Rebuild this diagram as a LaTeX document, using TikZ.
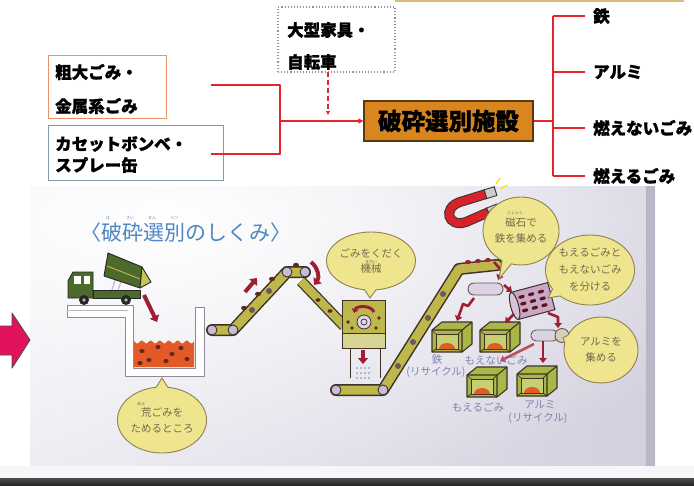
\documentclass[tikz,border=0pt]{standalone}
\usepackage{fontspec}
\setmainfont{Noto Sans CJK JP}
\newfontfamily\heavyjp{Noto Sans CJK JP}[BoldFeatures={FakeBold=1.3}]
\usetikzlibrary{arrows.meta,shapes.callouts,fadings}

\definecolor{linered}{HTML}{E3262B}
\definecolor{edgeorange}{HTML}{E8916A}
\definecolor{edgeblue}{HTML}{7E9CAA}
\definecolor{edgegray}{HTML}{9A8E9C}
\definecolor{plantfill}{HTML}{D9861E}
\definecolor{plantedge}{HTML}{5C3810}
\definecolor{panelL}{HTML}{ECEBF2}
\definecolor{panelR}{HTML}{D3D0DE}
\definecolor{panelEdge}{HTML}{BAB5C7}
\definecolor{bubblefill}{HTML}{EFE58E}
\definecolor{bubbleedge}{HTML}{8E8050}
\definecolor{bubbletext}{HTML}{6F6B4C}
\definecolor{titleblue}{HTML}{4E86C2}
\definecolor{labelblue}{HTML}{7D84B0}
\definecolor{belt}{HTML}{BEB84C}
\definecolor{beltedge}{HTML}{3E3024}
\definecolor{pulley}{HTML}{C9BCDB}
\definecolor{flowred}{HTML}{9E1F33}
\definecolor{garbage}{HTML}{E35A28}
\definecolor{lump}{HTML}{5B2A1E}
\definecolor{truckgreen}{HTML}{4B6A2B}
\definecolor{tipyellow}{HTML}{C9C455}
\definecolor{bingreen}{HTML}{A9B748}
\definecolor{bininner}{HTML}{C7CF72}
\definecolor{drum}{HTML}{DBD3E3}
\definecolor{screen}{HTML}{C9A7C6}
\definecolor{pinkarrow}{HTML}{E2135D}
\definecolor{wallgray}{HTML}{8C8A96}
\definecolor{magnetred}{HTML}{D8222A}
\definecolor{topline}{HTML}{D9BC7E}

\tikzfading[name=softcorner, inner color=transparent!0, outer color=transparent!100]

\tikzset{
  redline/.style={draw=linered, line width=1.6pt},
  heavy/.style={font=\heavyjp\fontsize{16.5}{20}\selectfont\bfseries, inner sep=0pt, anchor=west},
  bubble/.style={ellipse callout, fill=bubblefill, draw=bubbleedge, line width=0.9pt,
    align=center, font=\fontsize{10.5}{16}\selectfont, text=bubbletext, inner sep=0pt},
  ruby/.style={font=\fontsize{4}{4}\selectfont, inner sep=0pt},
  binlabel/.style={font=\fontsize{10.5}{12}\selectfont, text=labelblue, inner sep=0pt},
  flow/.style={draw=flowred, line width=2.6pt, line join=round, -{Triangle[length=5pt,width=7.5pt]}},
  bigflow/.style={draw=flowred, line width=4pt, line join=round, -{Triangle[length=6pt,width=10pt]}},
  beltbase/.style={line width=12pt, draw=beltedge, line cap=round, line join=round},
  belttop/.style={line width=9pt, draw=belt, line cap=round, line join=round},
  roller/.style={circle, fill=pulley, draw=beltedge, line width=0.9pt, minimum size=10pt, inner sep=0pt},
  idler/.style={circle, fill=beltedge!70!pulley, minimum size=6pt, inner sep=0pt},
  bin/.pic={
    \filldraw[fill=bingreen, draw=beltedge, line width=1.1pt, line join=round]
      (0,8) -- (10,0) -- (40,0) -- (40,22) -- (30,30) -- (0,30) -- cycle;
    \filldraw[fill=bininner, draw=beltedge, line width=0.7pt] (4,12) rectangle (26,27);
    \draw[beltedge, line width=0.7pt] (0,8) -- (4,12) (30,8) -- (26,12) (0,30) -- (4,27) (30,30) -- (26,27);
    \draw[beltedge, line width=1.1pt, line join=round] (0,8) -- (30,8) -- (40,0) (30,8) -- (30,30);
    \fill[garbage] (7,27) arc[start angle=180, end angle=360, x radius=8, y radius=6] -- cycle;
  }
}

\begin{document}
\begin{tikzpicture}[x=1pt, y=-1pt]
\useasboundingbox (0,0) rectangle (694,485);
\fill[white] (0,0) rectangle (694,485);

% ---------- illustrated panel background ----------
\shade[left color=panelL, right color=panelR] (30,186) rectangle (655,466);
\begin{scope}
  \clip (30,186) rectangle (655,466);
  \fill[white, path fading=softcorner] (-465,-60) rectangle (795,500);
\end{scope}
\fill[panelEdge] (646,186) rectangle (655,466);
\fill[white!80!panelR] (0,466) rectangle (694,478);
\shade[top color=black!70, bottom color=black!85] (0,478) rectangle (694,485);

\draw[topline, line width=2pt] (395,1) -- (684,1);

% ---------- flow chart ----------
\node[draw=edgeorange, line width=1pt, minimum width=118pt, minimum height=63pt, inner sep=0pt] (sodai) at (107,86.5) {};
\node[heavy] (sodai1) at (55,72) {粗大ごみ・};
\node[heavy] (sodai2) at (55,106) {金属系ごみ};
\node[draw=edgeblue, line width=1pt, minimum width=175pt, minimum height=55pt, inner sep=0pt] (cassette) at (135.5,152.5) {};
\node[heavy] (cassette1) at (55,144) {カセットボンベ・};
\node[heavy] (cassette2) at (55,165) {スプレー缶};
\node[draw=edgegray, dotted, line width=1.1pt, minimum width=117pt, minimum height=65pt, inner sep=0pt] (kagu) at (336.5,39.5) {};
\node[heavy] (kagu1) at (287,30) {大型家具・};
\node[heavy] (kagu2) at (287,62) {自転車};
\node[fill=plantfill, draw=plantedge, line width=1.3pt, minimum width=169pt, minimum height=40pt,
      inner sep=0pt, font=\heavyjp\fontsize{23.5}{26}\selectfont\bfseries] (plant) at (448.5,121) {破砕選別施設};

\coordinate (ja) at (211,85);
\coordinate (jb) at (280,85);
\coordinate (jc) at (280,154);
\coordinate (jd) at (211,154);
\coordinate (jm) at (280,121);
\draw[redline, line join=round] (ja) -- (jb) -- (jc) -- (jd);
\draw[redline, -{Triangle[length=5pt,width=5pt]}] (jm) -- (plant.west);
\coordinate (da) at (328,72);
\coordinate (db) at (328,115);
\draw[linered, line width=1.3pt, dash pattern=on 5pt off 3pt, -{Triangle[length=4pt,width=4pt]}] (da) -- (db);

\node[heavy] (tetsu) at (593,16) {鉄};
\node[heavy] (alumi) at (593,72) {アルミ};
\node[heavy] (moenai) at (593,128) {燃えないごみ};
\node[heavy] (moeru) at (593,176) {燃えるごみ};
\coordinate (ra) at (553,121);
\coordinate (r1) at (553,16);
\coordinate (r2) at (553,72);
\coordinate (r3) at (553,128);
\coordinate (r4) at (553,176);
\draw[redline] (plant.east) -- (ra);
\draw[redline] (r1) -- (r4);
\foreach \r/\t in {r1/tetsu, r2/alumi, r3/moenai, r4/moeru}
  \draw[redline, shorten >=8pt] (\r) -- (\t.west);

% pink arrow at the left edge
\filldraw[fill=pinkarrow, draw=black!70, line width=0.9pt, line join=round]
  (-2,326) -- (12,326) -- (12,313) -- (30,340) -- (12,368) -- (12,355) -- (-2,355) -- cycle;

% title
\node[font=\fontsize{21}{24}\selectfont, text=titleblue, anchor=west, inner sep=0pt] (title) at (80,233) {〈破砕選別のしくみ〉};
\node[ruby, text=titleblue] (rb1) at (108,218) {は};
\node[ruby, text=titleblue] (rb2) at (130,218) {さい};
\node[ruby, text=titleblue] (rb3) at (152,218) {せん};
\node[ruby, text=titleblue] (rb4) at (174,218) {べつ};

% truck
\filldraw[fill=truckgreen, draw=black!85, line width=0.9pt, line join=round]
  (68,298) -- (68,281) -- (73,272) -- (93,272) -- (93,298) -- cycle;
\fill[white] (74,276) rectangle (81,284);
\fill[white] (84,276) rectangle (90,284);
\filldraw[fill=truckgreen, draw=black!85, line width=0.9pt] (93,290) rectangle (140,298);
\draw[pulley, line width=1.3pt] (112,290) -- (116,277) (118,290) -- (122,279);
\filldraw[fill=truckgreen, draw=black!85, line width=0.9pt, line join=round]
  (104,276) -- (108,253) -- (142,267) -- (140,288) -- cycle;
\draw[tipyellow, line width=0.8pt] (107,266) -- (140,279);
\filldraw[fill=tipyellow, draw=black!85, line width=0.9pt, line join=round] (142,267) -- (151,282) -- (140,288) -- cycle;
\foreach \w in {84,126} {
  \fill[black!85] (\w,300) circle[radius=5];
  \fill[black!30] (\w,300) circle[radius=1.8];
}

% receiving pit
\filldraw[fill=white, draw=wallgray, line width=1pt, line join=round]
  (67,305) -- (133,305) -- (133,368) -- (195,368) -- (195,307) -- (204,307) -- (204,376)
  -- (125,376) -- (125,317) -- (67,317) -- cycle;
\draw[wallgray!60, line width=0.6pt] (67,310) -- (128,310);
\fill[garbage] plot[domain=134:194, samples=50] (\x,{342+1.5*sin(\x*40)}) -- (194,367) -- (134,367) -- cycle;
\foreach \p in {(142,351),(158,347),(181,348),(149,360),(166,361),(187,359),(172,354),(140,363)}
  \fill[lump] \p ellipse[x radius=2.6, y radius=2];
\draw[bigflow] (144,295) -- (157,322);

% first conveyor
\draw[beltbase] (212,330) -- (233,330) -- (287,272) -- (305,272);
\draw[belttop] (212,330) -- (233,330) -- (287,272) -- (305,272);
\foreach \p in {(244,308),(258,294),(272,279),(296,265)}
  \fill[lump] \p ellipse[x radius=3, y radius=2.2];
\node[idler] (id1) at (252,310) {};
\node[idler] (id2) at (269,291) {};
\node[roller] (p1) at (212,330) {};
\node[roller] (p2) at (233,330) {};
\node[roller] (p3) at (287,272) {};
\node[roller] (p4) at (305,272) {};
\draw[bigflow] (245,292) -- (257,278);
\draw[bigflow] (311,262) to[bend left=45] (314,285);

% chute to the crusher
\draw[line width=11pt, beltedge] (301,281) -- (344,326);
\draw[line width=8.5pt, belt] (301,281) -- (344,326);
\fill[lump] (318,300) ellipse[x radius=2.5, y radius=1.8];
\fill[lump] (330,311) ellipse[x radius=2.5, y radius=1.8];

% crusher
\filldraw[fill=belt, draw=beltedge, line width=1pt] (342,300) rectangle (385,348);
\filldraw[fill=belt!60!white, draw=beltedge, line width=0.8pt] (342,333) rectangle (385,348);
\filldraw[fill=pulley!60!white, draw=beltedge, line width=0.8pt] (364,322) circle[radius=7];
\draw[beltedge, line width=0.7pt] (364,322) circle[radius=3];
\foreach \p in {(348,322),(379,318),(352,328),(376,328)}
  \fill[lump] \p circle[radius=1.8];
\draw[draw=flowred, line width=3pt, -{Triangle[length=4pt,width=7pt]}] (374,312) to[bend right=70] (354,313);
\draw[beltedge, line width=1pt] (350,348) -- (350,378) (380,348) -- (380,378);
\draw[bigflow] (363,350) -- (363,364);
\foreach \i in {357,361,365,369} \foreach \j in {368,373,378}
  \fill[labelblue] (\i,\j) circle[radius=0.9];

% second conveyor
\draw[beltbase] (336,390) -- (383,390) -- (459,269) -- (497,265);
\draw[belttop] (336,390) -- (383,390) -- (459,269) -- (497,265);
\foreach \p in {(398,366),(413,342),(428,318),(443,294)}
  \node[idler] at \p {};
\foreach \p in {(468,262),(478,261),(488,260)}
  \fill[flowred] \p ellipse[x radius=3, y radius=2];
\node[roller] (p5) at (336,390) {};
\node[roller] (p6) at (383,390) {};

% magnet
\draw[black!80, line width=10pt] (486,194) -- (460,202) .. controls (442,208) and (448,228) .. (466,222) -- (489,212);
\draw[magnetred, line width=8pt] (486,194) -- (460,202) .. controls (442,208) and (448,228) .. (466,222) -- (489,212);
\draw[black!80, line width=10pt] (485,194.3) -- (496,191);
\draw[black!80, line width=10pt] (488,212.4) -- (499,208);
\draw[black!20, line width=8pt] (486,194) -- (495,191.3);
\draw[black!20, line width=8pt] (489,212) -- (498,208.3);
\draw[yellow!85!orange, line width=1.3pt] (496,184) -- (500,178) (501,189) -- (507,185);

% magnetic drum
\filldraw[fill=drum, draw=beltedge!80, line width=0.9pt, rounded corners=6pt] (468,283) rectangle (503,295);

% trommel screen
\begin{scope}[shift={(533,301)}, rotate=15]
  \filldraw[fill=screen, draw=beltedge, line width=1pt] (-19,-14) rectangle (19,14);
  \foreach \i in {-10,0,10} \foreach \j in {-7,0,7}
    \fill[flowred!60!black, rounded corners=1pt] (\i-3,\j-1.6) rectangle (\i+3,\j+1.6);
  \filldraw[fill=screen!70!white, draw=beltedge, line width=1pt] (-19,0) ellipse[x radius=4, y radius=14];
\end{scope}

% eddy current separator
\filldraw[fill=drum, draw=beltedge!80, line width=0.9pt, rounded corners=5pt] (531,330) rectangle (558,341);
\filldraw[fill=drum!70!tipyellow, draw=beltedge!80, line width=0.9pt] (562,335.5) circle[radius=7];

% bins
\pic at (432,322) {bin};
\pic at (480,322) {bin};
\pic at (467,367) {bin};
\pic at (517,366) {bin};

% material flow
\draw[flow] (494,262) -- (502,271) -- (498,280);
\draw[flow] (504,285) -- (512,292);
\draw[flow] (474,298) -- (468,306) -- (463,304) -- (457,321);
\draw[flow] (514,314) -- (505,323);
\draw[flow] (548,313) -- (558,317) -- (558,328);
\draw[flow] (543,341) -- (543,363);
\draw[flow, draw=flowred!70!pink] (534,344) -- (500,361);

% bin labels
\node[binlabel] (l1) at (437,360) {鉄};
\node[binlabel] (l1b) at (436,372) {(リサイクル)};
\node[binlabel] (l2) at (496,360) {もえないごみ};
\node[binlabel] (l3) at (478,407) {もえるごみ};
\node[binlabel] (l4) at (540,405) {アルミ};
\node[binlabel] (l4b) at (538,418) {(リサイクル)};

% speech bubbles
\coordinate (t1) at (162,378);
\node[bubble, minimum width=72pt, minimum height=66pt, callout absolute pointer=(t1)] (b1) at (162,420) {荒ごみを\\ためるところ};
\node[ruby, text=bubbletext] (rb5) at (141,404) {あら};
\coordinate (t2) at (370,298);
\node[bubble, minimum width=76pt, minimum height=58pt, callout absolute pointer=(t2)] (b2) at (371,261) {ごみをくだく\\機械};
\node[ruby, text=bubbletext] (rb6) at (371,261.5) {きかい};
\coordinate (t3) at (499,279);
\node[bubble, minimum width=76pt, minimum height=68pt, callout absolute pointer=(t3)] (b3) at (521,231) {磁石で\\鉄を集める};
\node[ruby, text=bubbletext] (rb7) at (515,213) {じしゃく};
\coordinate (t4) at (548,298);
\node[bubble, font=\fontsize{10.5}{17}\selectfont, minimum width=80pt, minimum height=70pt, callout absolute pointer=(t4)] (b4) at (590,270) {もえるごみと\\もえないごみ\\を分ける};
\coordinate (t5) at (563,338);
\node[bubble, minimum width=74pt, minimum height=66pt, callout absolute pointer=(t5)] (b5) at (601,350) {アルミを\\集める};

\end{tikzpicture}
\end{document}
